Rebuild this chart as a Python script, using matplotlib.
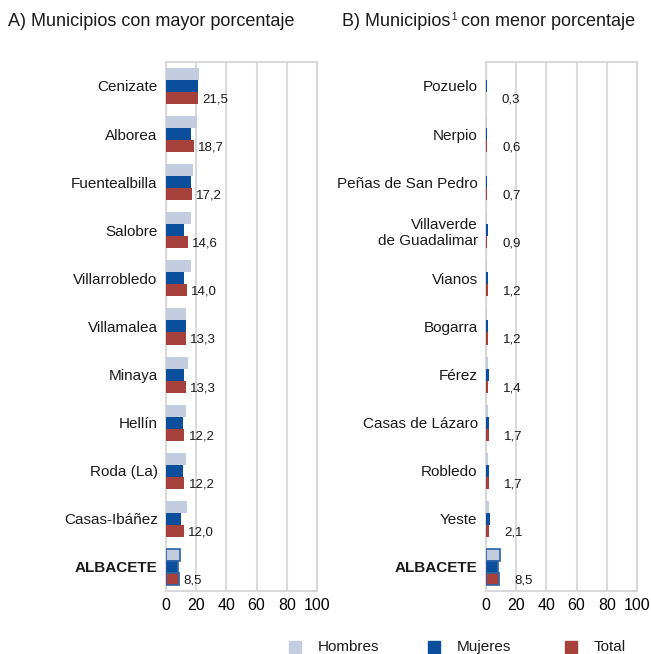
import matplotlib
matplotlib.use("Agg")
import matplotlib.pyplot as plt
from matplotlib.patches import Rectangle
import numpy as np

plt.rcParams['font.family'] = ['Liberation Sans', 'DejaVu Sans']

# Panel A data
cat_a = ["Cenizate", "Alborea", "Fuentealbilla", "Salobre", "Villarrobledo",
         "Villamalea", "Minaya", "Hellín", "Roda (La)", "Casas-Ibáñez", "ALBACETE"]
hombres_a = [22.1, 20.4, 17.6, 16.7, 16.3, 13.3, 14.8, 13.0, 13.0, 13.7, 9.3]
mujeres_a = [20.9, 16.8, 16.6, 12.1, 12.1, 13.1, 11.8, 11.2, 11.2, 10.1, 7.9]
total_a = [21.5, 18.7, 17.2, 14.6, 14.0, 13.3, 13.3, 12.2, 12.2, 12.0, 8.5]

# Panel B data
cat_b = ["Pozuelo", "Nerpio", "Peñas de San Pedro", "Villaverde\nde Guadalimar", "Vianos",
         "Bogarra", "Férez", "Casas de Lázaro", "Robledo", "Yeste", "ALBACETE"]
hombres_b = [0.2, 0.4, 0.3, 0.6, 0.8, 1.0, 1.2, 1.5, 1.2, 1.7, 9.3]
mujeres_b = [0.5, 0.7, 1.0, 1.1, 1.6, 1.4, 1.7, 2.0, 2.2, 2.5, 7.9]
total_b = [0.3, 0.6, 0.7, 0.9, 1.2, 1.2, 1.4, 1.7, 1.7, 2.1, 8.5]

xticks = [0, 20, 40, 60, 80, 100]
series_names = ["Hombres", "Mujeres", "Total"]

c_h = "#c4cde0"
c_m = "#0b4f9c"
c_t = "#a5403b"
edge_alb = "#2a64a8"

W, H = 651, 654
fig = plt.figure(figsize=(W / 100, H / 100), dpi=100)
ax_a = fig.add_axes([0.255, 0.0963, 0.232, 0.809])
ax_b = fig.add_axes([0.7465, 0.0963, 0.232, 0.809])

bh = 0.25

def draw(ax, cats, h, m, t, lab_off):
    n = len(cats)
    y = np.arange(n)
    for i in range(n):
        alb = cats[i] == "ALBACETE"
        ec = edge_alb if alb else "none"
        lw = 1.2 if alb else 0
        ax.barh(y[i] - bh, h[i], height=bh, color=c_h, edgecolor=ec, linewidth=lw, zorder=3)
        ax.barh(y[i], m[i], height=bh, color=c_m, edgecolor=ec, linewidth=lw, zorder=3)
        ax.barh(y[i] + bh, t[i], height=bh, color=c_t, edgecolor=ec, linewidth=lw, zorder=3)
        ax.annotate(f"{t[i]:.1f}".replace(".", ","), xy=(t[i], y[i] + bh + 0.03),
                    xytext=(lab_off, 0), textcoords="offset points",
                    ha="left", va="center", fontsize=9.5, color="#1a1a1a")
    ax.set_ylim(n - 0.5, -0.5)
    ax.set_xlim(0, 100)
    ax.set_xticks(xticks)
    ax.set_xticklabels([str(v) for v in xticks], fontsize=11.5)
    ax.set_yticks(y)
    ax.set_yticklabels(cats, fontsize=11, color="#1a1a1a")
    for lbl in ax.get_yticklabels():
        if lbl.get_text() == "ALBACETE":
            lbl.set_fontweight("bold")
    ax.tick_params(length=0, pad=6)
    ax.tick_params(axis="x", pad=5)
    ax.grid(axis="x", color="#d9d9d9", linewidth=1.5, zorder=0)
    for s in ax.spines.values():
        s.set_color("#d9d9d9")
        s.set_linewidth(1.5)

draw(ax_a, cat_a, hombres_a, mujeres_a, total_a, 3)
draw(ax_b, cat_b, hombres_b, mujeres_b, total_b, 11)

ty = 1 - 22 / H
fig.text(8 / W, ty, "A) Municipios con mayor porcentaje", fontsize=13, ha="left", va="center",
         color="#1a1a1a")
tb1 = fig.text(342 / W, ty, "B) Municipios", fontsize=13, ha="left", va="center", color="#1a1a1a")
fig.canvas.draw()
bb = tb1.get_window_extent()
fig.text((bb.x1 + 0.5) / W, ty + 0.008, "1", fontsize=7, ha="left", va="center", color="#1a1a1a")
fig.text((bb.x1 + 6) / W, ty, " con menor porcentaje", fontsize=13, ha="left", va="center",
         color="#1a1a1a")

# legend
ly = 647
sq = 12
for name, col, xs, xt in zip(series_names, [c_h, c_m, c_t], [289, 428, 565], [318, 457, 594]):
    fig.patches.append(Rectangle(((xs) / W, (H - ly - sq / 2) / H), sq / W, sq / H,
                                 transform=fig.transFigure, color=col, figure=fig))
    fig.text(xt / W, (H - ly) / H, name, fontsize=11, ha="left", va="center", color="#1a1a1a")

fig.savefig("out.png", dpi=100)
